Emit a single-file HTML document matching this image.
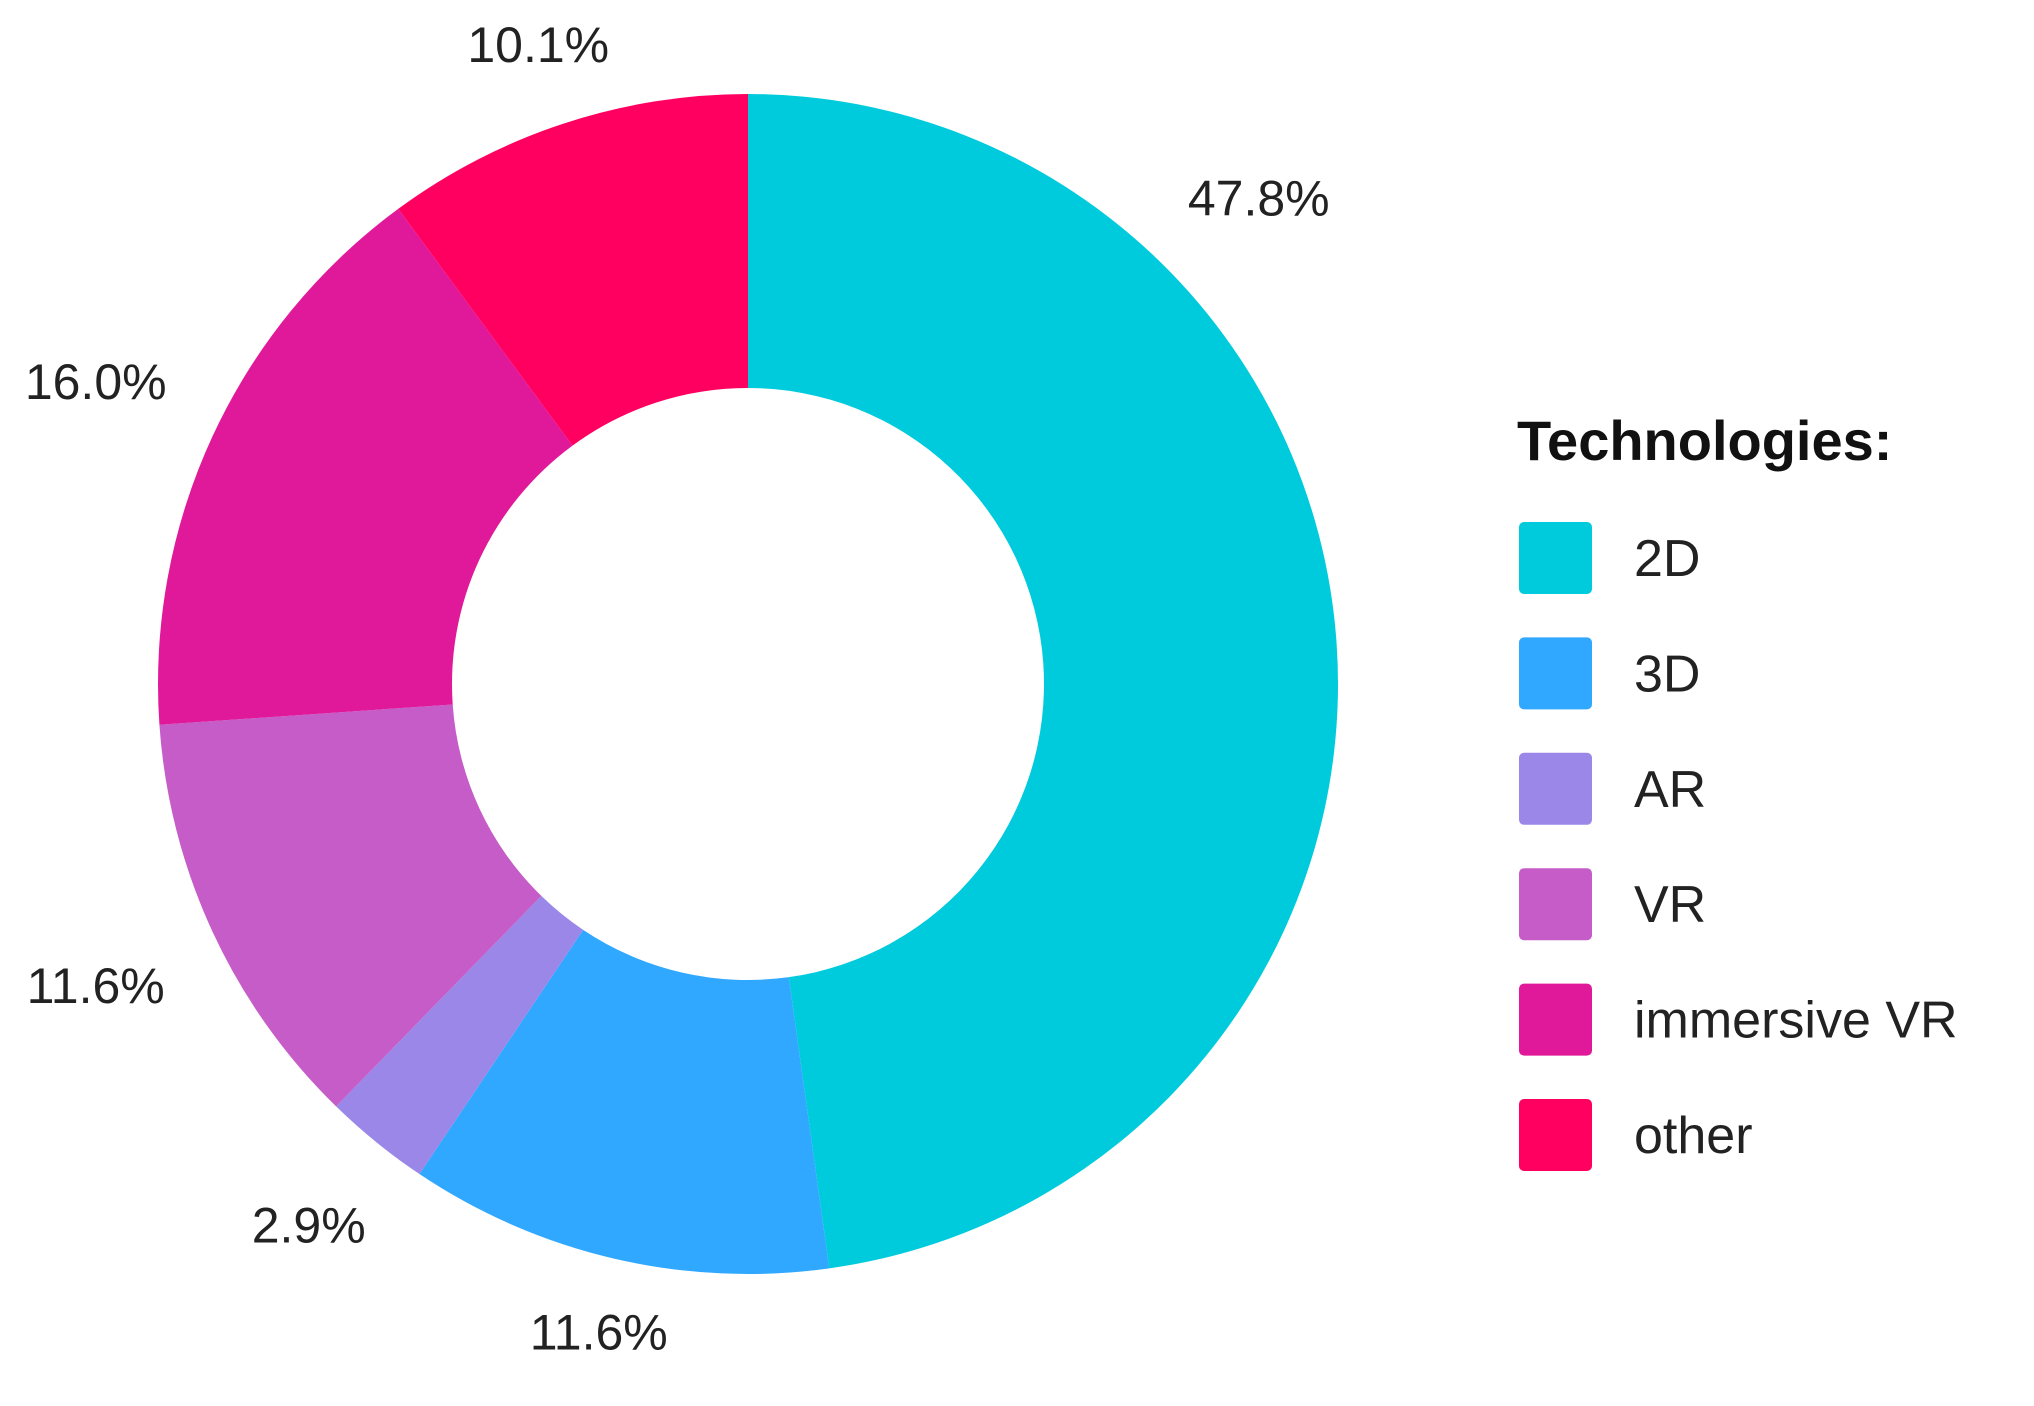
<!DOCTYPE html>
<html><head><meta charset="utf-8"><style>
html,body{margin:0;padding:0;background:#fff;}
svg{display:block;font-family:"Liberation Sans",sans-serif;}
</style></head><body>
<svg id="chart" width="2034" height="1406" viewBox="0 0 2034 1406">
<g id="slices"></g>
<g id="labels"></g>
<g id="legend">
<text x="1517" y="460" font-size="56" font-weight="bold" fill="#111">Technologies:</text>
</g>
</svg>
<script>
const categories = ["2D","3D","AR","VR","immersive VR","other"];
const values = [47.8,11.6,2.9,11.6,16.0,10.1];
const valueLabels = ["47.8%","11.6%","2.9%","11.6%","16.0%","10.1%"];
const colors = ["#00CBDD","#30A8FF","#9B87E8","#C55CC8","#E0189A","#FF0060"];
const cx=748, cy=684, R=590, r=296;
const NS="http://www.w3.org/2000/svg";
const total=values.reduce((a,b)=>a+b,0);
const sg=document.getElementById('slices'), lg=document.getElementById('labels'), leg=document.getElementById('legend');
function pt(a,rad){return [cx+rad*Math.sin(a), cy-rad*Math.cos(a)];}
let acc=0;
values.forEach((v,i)=>{
  const a0=acc/total*2*Math.PI; acc+=v; const a1=acc/total*2*Math.PI;
  const large=(a1-a0)>Math.PI?1:0;
  const p0=pt(a0,R),p1=pt(a1,R),q1=pt(a1,r),q0=pt(a0,r);
  const p=document.createElementNS(NS,'path');
  p.setAttribute('d',`M${p0[0]},${p0[1]} A${R},${R} 0 ${large} 1 ${p1[0]},${p1[1]} L${q1[0]},${q1[1]} A${r},${r} 0 ${large} 0 ${q0[0]},${q0[1]} Z`);
  p.setAttribute('fill',colors[i]);
  
  
  sg.appendChild(p);
  const span=a1-a0;
  const am = span>Math.PI/2 ? a0+0.27*span : (a0+a1)/2;
  const lr = R+58+78*Math.abs(Math.sin(am));
  const lp=pt(am,lr);
  const t=document.createElementNS(NS,'text');
  t.setAttribute('x',lp[0]); t.setAttribute('y',lp[1]+17);
  t.setAttribute('text-anchor','middle'); t.setAttribute('font-size','50'); t.setAttribute('fill','#222');
  t.textContent=valueLabels[i];
  
  
  lg.appendChild(t);
  const y=558+i*115.4;
  const sw=document.createElementNS(NS,'rect');
  sw.setAttribute('x',1519); sw.setAttribute('y',y-36); sw.setAttribute('width',73); sw.setAttribute('height',72); sw.setAttribute('rx',5); sw.setAttribute('fill',colors[i]);
  
  
  leg.appendChild(sw);
  const lt=document.createElementNS(NS,'text');
  lt.setAttribute('x',1634); lt.setAttribute('y',y+18); lt.setAttribute('font-size','52'); lt.setAttribute('fill','#222');
  lt.textContent=categories[i];
  
  
  leg.appendChild(lt);
});
</script>
</body></html>
